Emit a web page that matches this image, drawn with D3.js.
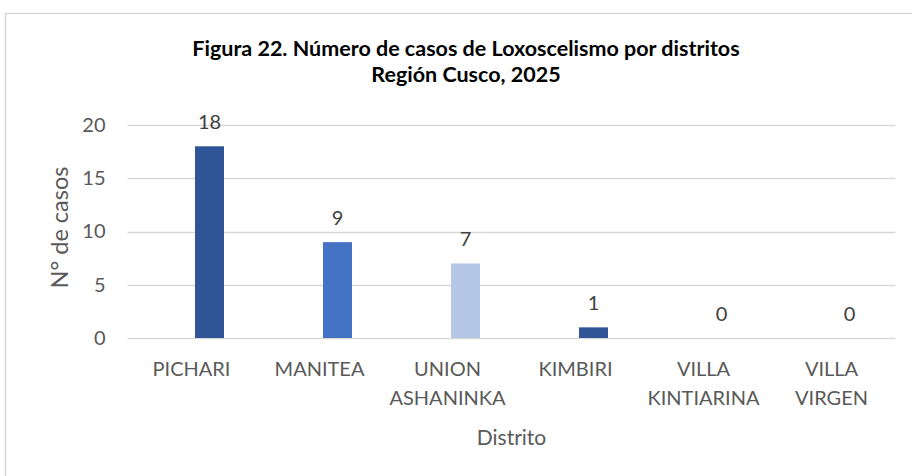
<!DOCTYPE html>
<html>
<head>
<meta charset="utf-8">
<script src="https://cdn.jsdelivr.net/npm/d3@7"></script>
<style>
    html, body { margin: 0; padding: 0; background: #ffffff; }
    #container { width: 912px; height: 476px; }
    text { font-family: Lato, "Open Sans", sans-serif; }
</style>
</head>
<body>
<div id="container"></div>
<script>
"use strict"

// chart data
const districts = ["PICHARI", "MANITEA", "UNION ASHANINKA", "KIMBIRI", "VILLA KINTIARINA", "VILLA VIRGEN"];
const cases = [18, 9, 7, 1, 0, 0];
const barColors = ["#2F5597", "#4472C4", "#B4C7E7", "#2F5597", "#2F5597", "#2F5597"];
const yTicks = [0, 5, 10, 15, 20];
const titleLines = ["Figura 22. Número de casos de Loxoscelismo por distritos", "Región Cusco, 2025"];

const width = 912;
const height = 476;
const plotLeft = 127.5;
const plotRight = 895.5;
const plotTop = 125;
const plotBottom = 338;
const barWidth = 29;
const barOffset = 18;
const textColor = "#595959";

let container;
let svg;
let x;
let y;


function Main()
{
    container = document.getElementById("container");
    CreateSVG();
    CreateScales();
    DrawFrame();
    DrawTitle();
    DrawGrid();
    DrawBars();
    DrawAxes();
    container.append(svg.node());
};


function CreateSVG()
{
    svg = d3.create("svg")
        .attr("width", width)
        .attr("height", height);
};


function CreateScales()
{
    x = d3.scaleBand()
        .domain(districts)
        .range([plotLeft, plotRight]);

    y = d3.scaleLinear()
        .domain([0, 20])
        .range([plotBottom, plotTop]);
};


function DrawFrame()
{
    svg.append("rect")
        .attr("x", 5.5)
        .attr("y", 13.5)
        .attr("width", 1000)
        .attr("height", 1000)
        .attr("fill", "#ffffff")
        .attr("stroke", "#d9d9d9")
        .attr("stroke-width", 1.5);
};


function DrawTitle()
{
    svg.append("g")
        .selectAll("text")
        .data(titleLines)
        .enter()
        .append("text")
        .attr("x", 466)
        .attr("y", (_, i) => 56 + i * 26)
        .attr("text-anchor", "middle")
        .attr("font-size", 21.5)
        .attr("font-weight", "bold")
        .attr("fill", "#000000")
        .text(d => d);
};


function DrawGrid()
{
    svg.append("g")
        .selectAll("line")
        .data(yTicks)
        .enter()
        .append("line")
        .attr("x1", plotLeft)
        .attr("x2", plotRight)
        .attr("y1", d => Math.round(y(d)) + 0.5)
        .attr("y2", d => Math.round(y(d)) + 0.5)
        .attr("stroke", "#d9d9d9")
        .attr("stroke-width", 1.5);
};


function DrawBars()
{
    svg.append("g")
        .selectAll("rect")
        .data(cases)
        .enter()
        .append("rect")
        .attr("x", (_, i) => x(districts[i]) + x.bandwidth() / 2 + barOffset - barWidth / 2)
        .attr("y", d => y(d))
        .attr("width", barWidth)
        .attr("height", d => y(0) - y(d))
        .attr("fill", (_, i) => barColors[i]);

    // value labels above each bar
    svg.append("g")
        .selectAll("text")
        .data(cases)
        .enter()
        .append("text")
        .attr("x", (_, i) => x(districts[i]) + x.bandwidth() / 2 + barOffset)
        .attr("y", d => y(d) - 17)
        .attr("text-anchor", "middle")
        .attr("font-size", 20)
        .attr("fill", "#404040")
        .text(d => d);
};


function DrawAxes()
{
    const yAxis = d3.axisLeft(y)
        .tickValues(yTicks)
        .tickSize(0)
        .tickPadding(22);

    const yGroup = svg.append("g")
        .attr("transform", `translate(${plotLeft},0)`)
        .call(yAxis);
    yGroup.select(".domain").remove();
    yGroup.selectAll("text")
        .attr("font-family", null)
        .attr("font-size", 20)
        .attr("fill", textColor);

    const xAxis = d3.axisBottom(x)
        .tickSize(0)
        .tickFormat("");

    const xGroup = svg.append("g")
        .attr("transform", `translate(0,${plotBottom})`)
        .call(xAxis);
    xGroup.select(".domain").remove();

    // wrapped category labels
    xGroup.selectAll(".tick")
        .append("text")
        .attr("text-anchor", "middle")
        .attr("font-size", 20)
        .attr("fill", textColor)
        .each(function(d) {
            const words = d.split(" ");
            d3.select(this)
                .selectAll("tspan")
                .data(words)
                .enter()
                .append("tspan")
                .attr("x", 0)
                .attr("y", (_, i) => 38 + i * 29)
                .text(w => w);
        });

    svg.append("text")
        .attr("x", (plotLeft + plotRight) / 2)
        .attr("y", 445)
        .attr("text-anchor", "middle")
        .attr("font-size", 21)
        .attr("fill", textColor)
        .text("Distrito");

    svg.append("text")
        .attr("transform", `translate(68,${(plotTop + plotBottom) / 2 - 4}) rotate(-90)`)
        .attr("text-anchor", "middle")
        .attr("font-size", 23.5)
        .attr("fill", textColor)
        .text("N° de casos");
};


Main();
</script>
</body>
</html>
